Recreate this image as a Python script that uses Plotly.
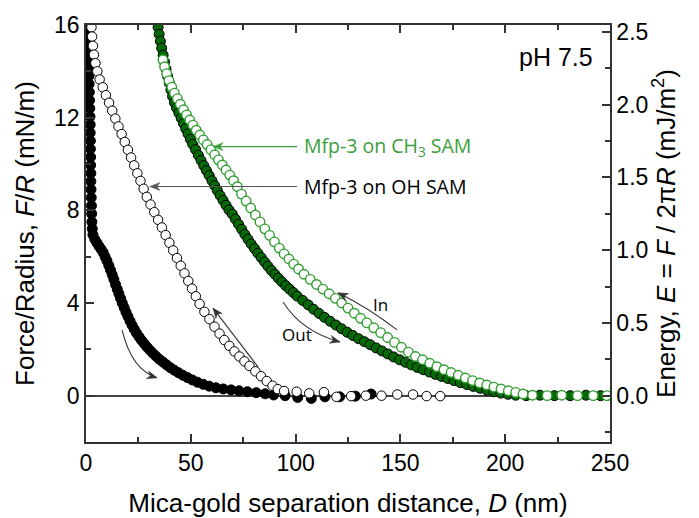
import math
import plotly.graph_objects as go

# ---- Force–distance data (D in nm, F/R in mN/m) ----
# Mfp-3 on OH SAM, separation ("Out", filled)
oh_out_D = [0.8, 0.9, 1.0, 1.1, 1.2, 1.3, 1.4, 1.5, 1.6, 1.7, 1.8, 1.9, 2.0, 2.0, 2.1, 2.1,
            2.2, 2.2, 2.3, 2.3, 2.4, 2.5, 2.6, 2.7, 2.8,
            3.0, 3.3, 4.2, 5.2, 6.2, 7.2, 8.2, 9.1, 10.0, 10.9, 11.7, 12.5, 13.3, 14.1, 14.9,
            15.7, 16.5, 17.3, 18.2, 19.1, 20.0, 21.0, 22.0, 23.0, 24.1, 25.3, 26.5, 27.8,
            29.1, 30.5, 31.9, 33.4, 35.0, 36.7, 38.4, 40.2, 42.1, 44.1, 46.2, 48.4, 50.7,
            53.2, 55.9, 58.8, 62.0, 65.5, 69.2, 73.0, 77.0, 81.2, 85.5, 89.5,
            95.0, 101.0, 107.5, 114.0, 121.0, 128.5, 136.0]
oh_out_F = [16.0, 15.6, 15.2, 14.85, 14.5, 14.15, 13.8, 13.45, 13.1, 12.75, 12.4, 12.05, 11.7,
            11.35, 11.0, 10.65, 10.3, 9.95, 9.6, 9.25, 8.9, 8.55, 8.2, 7.85, 7.5,
            7.2, 6.95, 6.75, 6.6, 6.45, 6.32, 6.18, 6.0, 5.82, 5.62, 5.42, 5.22, 5.02, 4.8,
            4.6, 4.4, 4.2, 4.0, 3.8, 3.6, 3.42, 3.22, 3.04, 2.87, 2.7, 2.54, 2.39, 2.24,
            2.1, 1.96, 1.83, 1.7, 1.57, 1.45, 1.33, 1.21, 1.1, 0.99, 0.88, 0.78, 0.68,
            0.58, 0.49, 0.41, 0.34, 0.29, 0.25, 0.21, 0.17, 0.13, 0.08, 0.03,
            0.0, -0.08, -0.12, -0.05, -0.05, -0.02, 0.07]

# Mfp-3 on OH SAM, approach ("In", open)
oh_in_D = [2.6, 2.9, 3.3, 3.8, 4.5, 5.4, 6.5,
           8.0, 9.5, 11.0, 12.5, 14.0, 15.5, 17.0, 18.5, 20.0, 21.5, 23.0, 24.5, 26.0, 27.5, 29.0,
           30.8, 32.6, 34.4, 36.2, 38.0, 39.8, 41.6, 43.4, 45.2, 47.0, 48.8, 50.6, 52.4, 54.2,
           56.5, 58.9, 61.3, 63.7, 66.0, 68.4, 70.8, 73.2, 75.6, 78.0,
           80.8, 83.5, 86.2, 89.0, 91.5, 94.5,
           100.5, 106.5, 113.5, 119.5, 126.5, 133.5, 141.0, 148.5, 156.0, 162.5, 169.0]
oh_in_F = [15.9, 15.5, 15.1, 14.72, 14.35, 14.0, 13.65,
           13.31, 12.97, 12.64, 12.3, 11.96, 11.62, 11.29, 10.95, 10.61, 10.28, 9.94, 9.6, 9.27,
           8.93, 8.58,
           8.25, 7.92, 7.59, 7.26, 6.93, 6.6, 6.27, 5.94, 5.61, 5.28, 4.95, 4.62, 4.29, 3.96,
           3.62, 3.3, 2.98, 2.68, 2.4, 2.15, 1.91, 1.69, 1.48, 1.28,
           1.05, 0.84, 0.63, 0.43, 0.28, 0.2,
           0.17, 0.1, 0.15, -0.05, -0.02, 0.0, 0.0, 0.05, 0.05, -0.02, -0.02]

# Mfp-3 on CH3 SAM, separation ("Out", filled)
ch3_out_D = [34.4, 34.9, 35.5, 36.1, 36.8, 37.5, 38.2, 38.9, 39.7, 40.5, 41.3, 42.2, 43.2, 44.3,
             45.4, 46.5, 47.6, 48.7, 49.8, 50.9,
             52.3, 53.6, 54.9, 56.2, 57.5, 58.8, 60.1, 61.4, 62.7, 64.0, 65.4, 66.8, 68.2,
             69.8, 71.3, 72.8, 74.3, 75.8, 77.3, 78.8, 80.4, 82.0, 83.6, 85.2, 86.8, 88.4,
             90.1, 91.8, 93.5, 95.3, 97.1, 98.9, 100.7,
             103.4, 106.0, 108.6, 111.2, 113.8, 116.5, 119.2, 121.9, 124.6, 127.3, 130.0,
             132.8, 135.6,
             138.4, 141.2, 144.0, 146.8, 149.6, 152.4, 155.2, 158.0, 160.9, 163.8, 166.7, 169.6,
             172.6, 175.6, 178.6, 181.7, 184.8, 188.0, 191.2, 194.5, 197.9, 201.4, 205.0,
             210.0, 216.5, 223.5, 231.0, 238.5, 245.5]
ch3_out_F = [15.9, 15.6, 15.3, 15.0, 14.7, 14.4, 14.1, 13.8, 13.5, 13.2, 12.92, 12.65, 12.42,
             12.2, 11.98, 11.75, 11.52, 11.3, 11.07, 10.85,
             10.62, 10.38, 10.15, 9.93, 9.71, 9.5, 9.28, 9.07, 8.85, 8.64, 8.43, 8.22, 8.02,
             7.84, 7.62, 7.4, 7.18, 6.96, 6.75, 6.55, 6.35, 6.15, 5.96, 5.77, 5.59, 5.41,
             5.24, 5.07, 4.91, 4.75, 4.6, 4.45, 4.3,
             4.11, 3.92, 3.73, 3.55, 3.38, 3.21, 3.05, 2.89, 2.74, 2.6, 2.46, 2.33, 2.2,
             2.06, 1.93, 1.8, 1.67, 1.55, 1.44, 1.33, 1.22, 1.12, 1.02, 0.92, 0.83,
             0.74, 0.65, 0.56, 0.48, 0.4, 0.32, 0.24, 0.17, 0.11, 0.06, 0.02,
             0.0, 0.02, 0.0, 0.0, 0.02, 0.0]

# Mfp-3 on CH3 SAM, approach ("In", open)
ch3_in_D = [36.7, 37.5, 38.5, 39.6, 40.9, 42.2, 43.6, 45.0, 46.5, 48.0, 49.5, 51.0,
            52.6, 54.3, 56.0, 57.8, 59.6, 61.4, 63.2, 65.0, 66.8, 68.6, 70.4, 72.2,
            74.2, 76.4, 78.6, 80.8, 83.0, 85.3, 87.6, 89.9, 92.2, 94.5, 96.8, 99.1, 101.4,
            104.0, 107.0, 110.0, 113.0, 116.0, 119.0, 122.0, 125.0, 128.0, 131.0, 134.0,
            137.3, 140.6, 143.9, 147.2, 150.5, 153.8, 157.2, 160.6, 164.0, 167.4, 170.8,
            174.2, 177.6,
            181.0, 184.4, 187.8, 191.2, 194.6, 198.0, 201.5, 205.0, 208.5,
            213.0, 220.0, 227.0, 234.5, 242.0, 248.5]
ch3_in_F = [14.5, 14.2, 13.9, 13.6, 13.32, 13.06, 12.82, 12.58, 12.34, 12.12, 11.9, 11.68,
            11.46, 11.25, 11.04, 10.84, 10.62, 10.4, 10.18, 9.96, 9.74, 9.52, 9.28, 9.02,
            8.7, 8.4, 8.1, 7.8, 7.5, 7.2, 6.92, 6.64, 6.37, 6.12, 5.9, 5.68, 5.47,
            5.24, 5.02, 4.8, 4.6, 4.4, 4.2, 4.0, 3.78, 3.56, 3.34, 3.14,
            2.93, 2.72, 2.51, 2.3, 2.09, 1.88, 1.69, 1.55, 1.4, 1.25, 1.12, 1.0, 0.88,
            0.76, 0.65, 0.55, 0.46, 0.37, 0.29, 0.21, 0.14, 0.07,
            0.02, 0.0, 0.02, 0.0, 0.0, 0.0]

# ---- Axis setup ----
D_RANGE = [0, 250]
F_RANGE = [-2, 16]
E_RANGE = [F_RANGE[0] / (2 * math.pi), F_RANGE[1] / (2 * math.pi)]  # E = F / 2πR

W, H = 699, 518
MARGIN = dict(l=86, r=89, t=25, b=76)
# pixels per data unit, used to shape arrowheads evenly on screen
SX = (W - MARGIN["l"] - MARGIN["r"]) / (D_RANGE[1] - D_RANGE[0])
SY = (H - MARGIN["t"] - MARGIN["b"]) / (F_RANGE[1] - F_RANGE[0])

AXIS_FONT = "Liberation Sans, Arial, sans-serif"
NOTE_FONT = "Open Sans, Noto Sans, sans-serif"
AXIS_COLOR = "#333333"
GREEN_DARK = "#066806"
GREEN_LIGHT = "#2f9e2f"
GREEN_TEXT = "#3a9e3a"
GRAY = "#555555"
ARROW = "#333333"

fig = go.Figure()

fig.add_trace(go.Scatter(x=oh_out_D, y=oh_out_F, mode="markers", name="OH out",
                         marker=dict(size=10, color="black", line=dict(color="black", width=1))))
fig.add_trace(go.Scatter(x=oh_in_D, y=oh_in_F, mode="markers", name="OH in",
                         marker=dict(size=9.5, color="white", line=dict(color="black", width=1))))
fig.add_trace(go.Scatter(x=ch3_out_D, y=ch3_out_F, mode="markers", name="CH3 out",
                         marker=dict(size=10, color=GREEN_DARK, line=dict(color="black", width=1))))
fig.add_trace(go.Scatter(x=ch3_in_D, y=ch3_in_F, mode="markers", name="CH3 in",
                         marker=dict(size=9.5, color="white", line=dict(color=GREEN_LIGHT, width=1.4))))
# invisible trace to activate the energy axis
fig.add_trace(go.Scatter(x=[None], y=[None], yaxis="y2", showlegend=False, hoverinfo="skip"))

common_axis = dict(showline=True, linecolor=AXIS_COLOR, linewidth=1.5, ticks="inside",
                   tickcolor=AXIS_COLOR, tickwidth=1.5, ticklen=8, showgrid=False,
                   automargin=False,
                   tickfont=dict(family=AXIS_FONT, size=23, color="black"),
                   title_font=dict(family=AXIS_FONT, size=26, color="black"))
minor_ticks = dict(ticks="inside", ticklen=5, tickcolor=AXIS_COLOR, tickwidth=1.5)

fig.update_layout(
    width=W, height=H,
    margin=MARGIN,
    paper_bgcolor="white", plot_bgcolor="white",
    showlegend=False,
    xaxis=dict(range=D_RANGE, dtick=50, mirror="ticks", zeroline=False,
               minor=dict(dtick=25, **minor_ticks),
               title=dict(text="Mica-gold separation distance, <i>D</i> (nm)", standoff=19),
               **common_axis),
    yaxis=dict(range=F_RANGE, dtick=4, tick0=0, zeroline=True, zerolinecolor="#444444",
               zerolinewidth=1.5,
               minor=dict(dtick=2, **minor_ticks),
               title=dict(text="Force/Radius, <i>F</i>/<i>R</i> (mN/m)", standoff=12),
               **common_axis),
    yaxis2=dict(range=E_RANGE, dtick=0.5, tick0=0, tickformat=".1f", overlaying="y",
                side="right", zeroline=False,
                minor=dict(dtick=0.25, **minor_ticks),
                title=dict(text="Energy, <i>E</i> = <i>F</i> / 2π<i>R</i> (mJ/m<sup>2</sup>)",
                           standoff=9),
                **common_axis),
)


def arrowhead(tip, frm, color, length=10.0, half=4.0):
    """Filled stealth-style arrowhead at `tip`, pointing away from `frm`."""
    tu, tv = tip[0] * SX, tip[1] * SY
    fu, fv = frm[0] * SX, frm[1] * SY
    du, dv = tu - fu, tv - fv
    n = math.hypot(du, dv)
    du, dv = du / n, dv / n
    pu, pv = -dv, du
    bu, bv = tu - length * du, tv - length * dv
    nu, nv = tu - 0.7 * length * du, tv - 0.7 * length * dv
    pts = [(tu, tv), (bu + half * pu, bv + half * pv), (nu, nv), (bu - half * pu, bv - half * pv)]
    path = "M " + " L ".join(f"{u / SX},{v / SY}" for u, v in pts) + " Z"
    fig.add_shape(type="path", xref="x", yref="y", path=path,
                  fillcolor=color, line=dict(color=color, width=0.5))


def curved_arrow(p0, ctrl, p1, color):
    fig.add_shape(type="path", xref="x", yref="y",
                  path=f"M {p0[0]},{p0[1]} Q {ctrl[0]},{ctrl[1]} {p1[0]},{p1[1]}",
                  line=dict(color=color, width=1.1))
    arrowhead(p1, ctrl, color)


def straight_arrow(tail, head, color):
    fig.add_shape(type="line", xref="x", yref="y", x0=tail[0], y0=tail[1],
                  x1=head[0], y1=head[1], line=dict(color=color, width=1.1))
    arrowhead(head, tail, color)


# OH SAM direction arrows
curved_arrow((17.2, 2.84), (21.8, 1.11), (33.9, 0.77), ARROW)
straight_arrow((82.1, 1.24), (60.6, 3.78), ARROW)
# CH3 SAM direction arrows
curved_arrow((94.0, 4.04), (102.9, 2.76), (121.2, 2.32), ARROW)
curved_arrow((148.4, 2.84), (134.2, 3.82), (120.2, 4.44), ARROW)

# Label leader arrows
straight_arrow((100.7, 10.75), (60.6, 10.75), GREEN_TEXT)
straight_arrow((100.7, 9.03), (30.5, 9.03), GRAY)

fig.add_annotation(x=103.0, y=10.75, xref="x", yref="y", showarrow=False, xanchor="left",
                   text="Mfp-3 on CH<sub>3</sub> SAM",
                   font=dict(family=NOTE_FONT, size=19.5, color=GREEN_TEXT))
fig.add_annotation(x=103.0, y=9.05, xref="x", yref="y", showarrow=False, xanchor="left",
                   text="Mfp-3 on OH SAM",
                   font=dict(family=NOTE_FONT, size=19.5, color="black"))
fig.add_annotation(x=140.3, y=3.95, xref="x", yref="y", showarrow=False,
                   text="In", font=dict(family=NOTE_FONT, size=17, color="black"))
fig.add_annotation(x=100.7, y=2.62, xref="x", yref="y", showarrow=False,
                   text="Out", font=dict(family=NOTE_FONT, size=17, color="black"))
fig.add_annotation(x=243, y=14.6, xref="x", yref="y", showarrow=False, xanchor="right",
                   text="pH 7.5", font=dict(family=AXIS_FONT, size=25, color="black"))

fig.write_html("out.html")
